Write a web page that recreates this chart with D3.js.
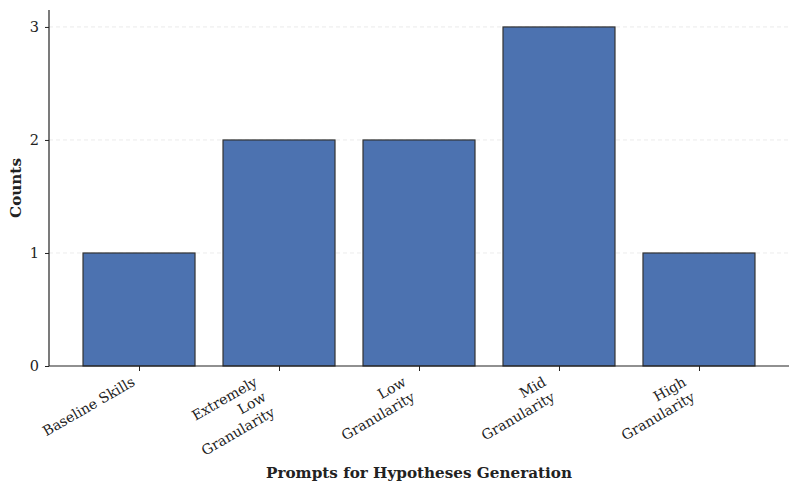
<!DOCTYPE html>
<html>
<head>
<meta charset="utf-8">
<script src="https://cdn.jsdelivr.net/npm/d3@7"></script>
<style>
  body { margin: 0; background: #fff; }
  svg text { font-family: "DejaVu Serif", "Liberation Serif", serif; fill: #222; }
</style>
</head>
<body>
<svg id="chart"></svg>
<script>
// Data
const categories = [
    ["Baseline Skills"],
    ["Extremely", "Low", "Granularity"],
    ["Low", "Granularity"],
    ["Mid", "Granularity"],
    ["High", "Granularity"]
];
const counts = [1, 2, 2, 3, 1];
const yTicks = [0, 1, 2, 3];

// SVG dimensions
const width = 798;
const height = 493;
const plotLeft = 49, plotRight = 789, plotTop = 10, plotBottom = 366;

const svg = d3.select("#chart")
    .attr("width", width)
    .attr("height", height);

// Scales
const xScale = d3.scaleLinear()
    .domain([-0.643, categories.length - 1 + 0.643])
    .range([plotLeft, plotRight]);

const yScale = d3.scaleLinear()
    .domain([0, 3.15])
    .range([plotBottom, plotTop]);

const barWidth = (xScale(1) - xScale(0)) * 0.8;

// Grid lines
svg.append("g")
    .selectAll("line")
    .data(yTicks.filter(d => d > 0))
    .enter()
    .append("line")
    .attr("x1", plotLeft)
    .attr("x2", plotRight)
    .attr("y1", d => yScale(d))
    .attr("y2", d => yScale(d))
    .attr("stroke", "#e6e6e6")
    .attr("stroke-width", 0.8)
    .attr("stroke-dasharray", "4,3");

// Bars
svg.append("g")
    .selectAll("rect")
    .data(counts)
    .enter()
    .append("rect")
    .attr("x", (d, i) => xScale(i) - barWidth / 2)
    .attr("y", d => yScale(d))
    .attr("width", barWidth)
    .attr("height", d => yScale(0) - yScale(d))
    .attr("fill", "#4c72b0")
    .attr("stroke", "#333")
    .attr("stroke-width", 1.2);

// Y axis
const yAxis = d3.axisLeft(yScale).tickValues(yTicks).tickFormat(d3.format("d")).tickSize(4).tickPadding(6);
const gy = svg.append("g")
    .attr("transform", "translate(" + plotLeft + ",0)")
    .call(yAxis);
gy.select(".domain").attr("stroke", "#222").attr("stroke-width", 1.2).attr("d", "M0," + plotTop + "V" + plotBottom);
gy.selectAll(".tick line").attr("stroke", "#222");
gy.selectAll(".tick text")
    .attr("font-size", 14.5)
    .attr("fill", "#222");

// X axis
const xAxis = d3.axisBottom(xScale).tickValues(d3.range(categories.length)).tickSize(5).tickFormat("");
const gx = svg.append("g")
    .attr("transform", "translate(0," + plotBottom + ")")
    .call(xAxis);
gx.select(".domain").attr("stroke", "#222").attr("stroke-width", 1.2).attr("d", "M" + plotLeft + ",0H" + plotRight);
gx.selectAll(".tick line").attr("stroke", "#222");

// Rotated multi-line tick labels, right aligned, top-right corner at the tick
const fontSize = 14;
const lineHeight = fontSize * 1.25;
const angle = 30;
const labelTop = plotBottom + 9;

categories.forEach((lines, i) => {
    const blockH = lines.length * lineHeight;
    const ox = xScale(i) - blockH * Math.sin(angle * Math.PI / 180);
    const t = svg.append("text")
        .attr("transform", "translate(" + ox + "," + labelTop + ") rotate(-" + angle + ")")
        .attr("text-anchor", "end")
        .attr("font-size", fontSize);
    lines.forEach((line, j) => {
        t.append("tspan")
            .attr("x", 0)
            .attr("y", fontSize * 0.8 + j * lineHeight)
            .text(line);
    });
});

// Axis titles
svg.append("text")
    .attr("x", (plotLeft + plotRight) / 2)
    .attr("y", 478)
    .attr("text-anchor", "middle")
    .attr("font-size", 15.2)
    .attr("font-weight", "bold")
    .text("Prompts for Hypotheses Generation");

svg.append("text")
    .attr("transform", "translate(21," + ((plotTop + plotBottom) / 2) + ") rotate(-90)")
    .attr("text-anchor", "middle")
    .attr("font-size", 15.2)
    .attr("font-weight", "bold")
    .text("Counts");
</script>
</body>
</html>
